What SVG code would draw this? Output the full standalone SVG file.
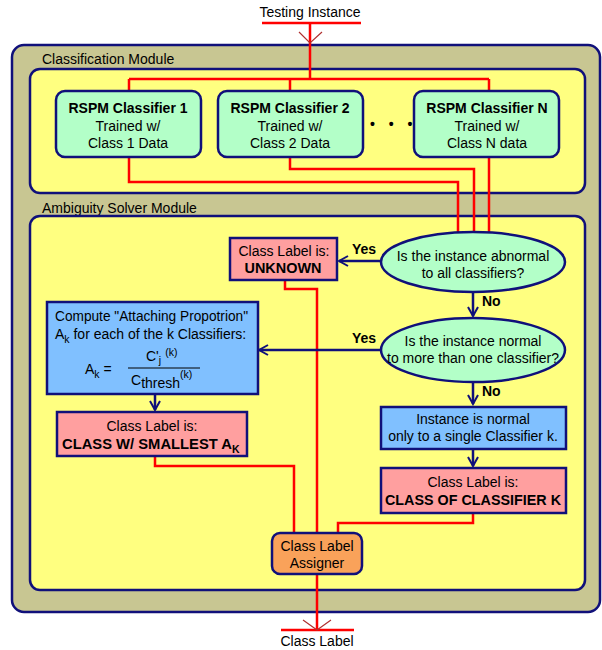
<svg xmlns="http://www.w3.org/2000/svg" width="602" height="650" viewBox="0 0 602 650">
<style>
text{font-family:"Liberation Sans",Arial,sans-serif;font-size:14px;fill:#000}
.b{font-weight:bold}
.m{text-anchor:middle}
.sm{font-size:10.5px}
.mod{fill:#ffff80;stroke:#10107a;stroke-width:2.5}
.cls{fill:#b3ffc8;stroke:#10107a;stroke-width:2.5}
.dec{fill:#b3ffc8;stroke:#10107a;stroke-width:2.5}
.pink{fill:#ff9f9f;stroke:#10107a;stroke-width:2.5}
.blue{fill:#80c0ff;stroke:#10107a;stroke-width:2.5}
.red{fill:none;stroke:#f00;stroke-width:2.5}
.nav{fill:none;stroke:#10107a;stroke-width:2.5}
.chev{fill:none;stroke:#b03030;stroke-width:1.2}
</style>
<defs>
<marker id="ah" markerWidth="12" markerHeight="12" refX="10" refY="6" orient="auto" markerUnits="userSpaceOnUse">
<path d="M1,1 L10,6 L1,11" fill="none" stroke="#10107a" stroke-width="2"/>
</marker>
</defs>

<g id="outer">
<rect x="12" y="45" width="588" height="567" rx="12" fill="#c8c692" stroke="#10107a" stroke-width="2.5"/>
<text x="42" y="64">Classification Module</text>
<rect class="mod" x="30" y="69" width="555" height="124" rx="10"/>
<text x="42" y="213">Ambiguity Solver Module</text>
<rect class="mod" x="30" y="216" width="555" height="374" rx="10"/>
</g>

<g id="connectors">
<path class="red" d="M262,23 H361"/>
<path class="red" d="M310,23 V79 M129,79 H489 M129,79 V92 M290,79 V92 M489,79 V92"/>
<path class="chev" d="M299,32 L310,43 L322,32"/>
<path class="red" d="M129,157 V182 H458 V232"/>
<path class="red" d="M290,157 V169 H474 V232"/>
<path class="red" d="M489,157 V232"/>
<path class="red" d="M285,280 V289 H317 V533"/>
<path class="red" d="M155,456 V466 H294 V533"/>
<path class="red" d="M473,513 V523 H338 V533"/>
<path class="red" d="M317,574 V630"/>
<path class="red" d="M281,630 H354"/>
<path class="chev" d="M303,620 L317,630 L331,620"/>
<path class="nav" d="M381,261 H339" marker-end="url(#ah)"/>
<path class="nav" d="M473,292 V316" marker-end="url(#ah)"/>
<path class="nav" d="M381,350 H259" marker-end="url(#ah)"/>
<path class="nav" d="M155,394 V410" marker-end="url(#ah)"/>
<path class="nav" d="M473,382 V404" marker-end="url(#ah)"/>
<path class="nav" d="M473,449 V466" marker-end="url(#ah)"/>
<text class="b" x="352" y="254">Yes</text>
<text class="b" x="482" y="306">No</text>
<text class="b" x="352" y="343">Yes</text>
<text class="b" x="482" y="396">No</text>
</g>

<g id="testing-instance"><text class="m" x="310" y="17">Testing Instance</text></g>

<g id="classifier-1">
<rect class="cls" x="56" y="91" width="145" height="66" rx="9"/>
<text class="m b" x="128" y="113">RSPM Classifier 1</text>
<text class="m" x="128" y="131">Trained w/</text>
<text class="m" x="128" y="148">Class 1 Data</text>
</g>
<g id="classifier-2">
<rect class="cls" x="218" y="91" width="145" height="66" rx="9"/>
<text class="m b" x="290" y="113">RSPM Classifier 2</text>
<text class="m" x="290" y="131">Trained w/</text>
<text class="m" x="290" y="148">Class 2 Data</text>
</g>
<g id="dots"><text class="b" x="370" y="129" letter-spacing="5">• • •</text></g>
<g id="classifier-n">
<rect class="cls" x="414" y="91" width="145" height="66" rx="9"/>
<text class="m b" x="487" y="113">RSPM Classifier N</text>
<text class="m" x="487" y="131">Trained w/</text>
<text class="m" x="487" y="148">Class N data</text>
</g>

<g id="decision-abnormal">
<ellipse class="dec" cx="473" cy="262" rx="92" ry="30"/>
<text class="m" x="473" y="261">Is the instance abnormal</text>
<text class="m" x="473" y="278">to all classifiers?</text>
</g>
<g id="unknown">
<rect class="pink" x="230" y="238" width="107" height="42"/>
<text class="m" x="284" y="256">Class Label is:</text>
<text class="m b" x="283" y="273" textLength="77" lengthAdjust="spacingAndGlyphs">UNKNOWN</text>
</g>
<g id="decision-normal">
<ellipse class="dec" cx="473" cy="350" rx="92" ry="32"/>
<text class="m" x="473" y="346">Is the instance normal</text>
<text class="m" x="473" y="363">to more than one classifier?</text>
</g>
<g id="compute">
<rect class="blue" x="47" y="302" width="211" height="92"/>
<text x="55" y="321" textLength="193" lengthAdjust="spacingAndGlyphs">Compute "Attaching Propotrion"</text>
<text x="55" y="339">A<tspan class="sm" dy="4">k</tspan><tspan dy="-4"> for each of the k Classifiers:</tspan></text>
<text x="85" y="374">A<tspan class="sm" dy="4">k</tspan><tspan dy="-4"> = </tspan></text>
<text x="146" y="361">C'<tspan class="sm" dy="3">j</tspan><tspan class="sm" dy="-8" dx="4">(k)</tspan></text>
<path d="M128,368 H200" stroke="#000" stroke-width="1"/>
<text x="131" y="385">C<tspan dy="3">thresh</tspan><tspan class="sm" dy="-10">(k)</tspan></text>
</g>
<g id="smallest">
<rect class="pink" x="57" y="412" width="190" height="44"/>
<text class="m" x="152" y="431">Class Label is:</text>
<text class="b" x="62" y="449"><tspan textLength="170" lengthAdjust="spacingAndGlyphs">CLASS W/ SMALLEST A</tspan><tspan class="sm" dy="4">K</tspan></text>
</g>
<g id="single">
<rect class="blue" x="381" y="407" width="185" height="42"/>
<text class="m" x="473" y="424">Instance is normal</text>
<text class="m" x="473" y="441">only to a single Classifier k.</text>
</g>
<g id="class-of-k">
<rect class="pink" x="381" y="468" width="185" height="45"/>
<text class="m" x="473" y="487">Class Label is:</text>
<text class="m b" x="473" y="505" textLength="176" lengthAdjust="spacingAndGlyphs">CLASS OF CLASSIFIER K</text>
</g>
<g id="assigner">
<rect x="272" y="533" width="90" height="41" rx="8" fill="#f9a25a" stroke="#10107a" stroke-width="2.5"/>
<text class="m" x="317" y="551">Class Label</text>
<text class="m" x="317" y="568">Assigner</text>
</g>
<g id="class-label"><text class="m" x="317" y="646">Class Label</text></g>
</svg>
